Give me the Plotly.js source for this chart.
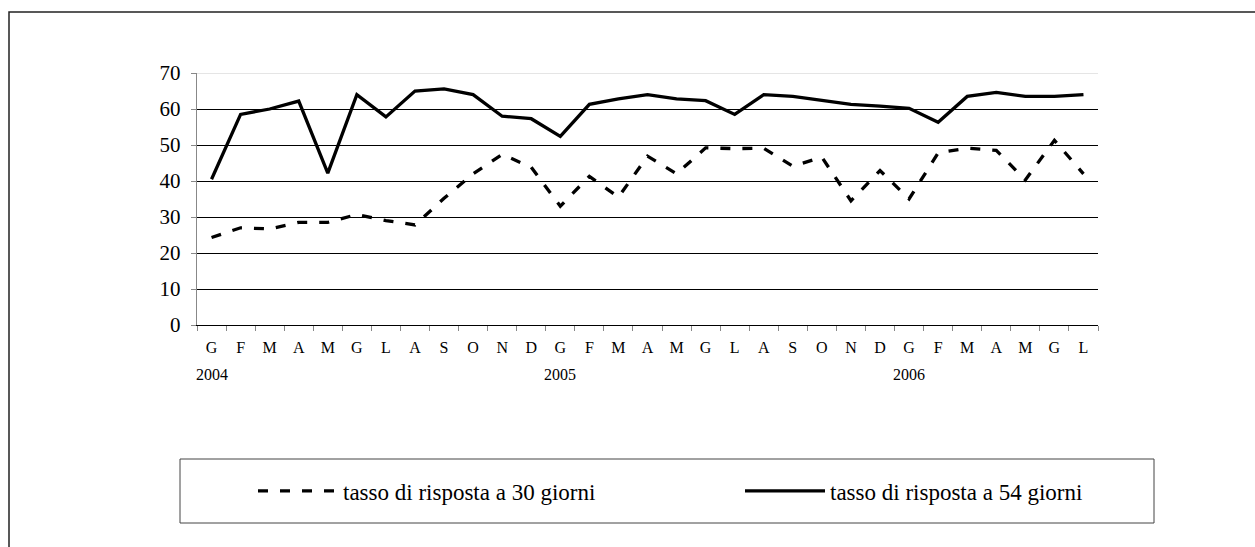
<!DOCTYPE html>
<html>
<head>
<meta charset="utf-8">
<script src="https://cdn.plot.ly/plotly-3.0.1.min.js"></script>
<style>
  html, body { margin: 0; padding: 0; background: #fff; }
  #chart { width: 1255px; height: 547px; }
</style>
</head>
<body>
<div id="chart"></div>
<script>
// ---- data ----
const months = ['G','F','M','A','M','G','L','A','S','O','N','D',
                'G','F','M','A','M','G','L','A','S','O','N','D',
                'G','F','M','A','M','G','L'];
const yearLabels = ['2004','2005','2006'];
const yearStartIndex = [0, 12, 24];
const rate30 = [24.3, 27.0, 26.7, 28.5, 28.5, 30.7, 29.0, 27.8, 35.2, 42.0, 47.4, 43.8,
                33.0, 41.3, 35.5, 46.9, 42.0, 49.2, 49.0, 49.1, 44.1, 46.6, 34.5, 42.9,
                35.0, 47.8, 49.1, 48.5, 40.3, 51.3, 42.0];
const rate54 = [40.5, 58.5, 60.0, 62.2, 42.2, 64.0, 57.8, 65.0, 65.6, 64.0, 58.0, 57.3,
                52.4, 61.3, 62.8, 64.0, 62.8, 62.3, 58.5, 64.0, 63.5, 62.5, 61.3, 60.8,
                60.2, 56.3, 63.5, 64.6, 63.5, 63.5, 64.0];
const seriesNames = ['tasso di risposta a 30 giorni', 'tasso di risposta a 54 giorni'];
const yTicks = [0, 10, 20, 30, 40, 50, 60, 70];

// unique category keys
const keys = months.map((m, i) => 'k' + i);

const W = 1255, H = 547;
const M = {l: 197, r: 157, t: 73, b: 222};
const pw = W - M.l - M.r, ph = H - M.t - M.b;
const px = x => (x - M.l) / pw;          // pixel -> paper x
const py = y => (H - M.b - y) / ph;      // pixel -> paper y

const FONT = 'Times New Roman, Liberation Serif, serif';

const traces = [
  {x: keys, y: rate30, name: seriesNames[0], type: 'scatter', mode: 'lines', legend: 'legend',
   line: {color: '#000', width: 3.3, dash: '10px,12px'}, hoverinfo: 'skip'},
  {x: keys, y: rate54, name: seriesNames[1], type: 'scatter', mode: 'lines', legend: 'legend2',
   line: {color: '#000', width: 3.3}, hoverinfo: 'skip'}
];

const annotations = yearLabels.map((t, i) => ({
  x: keys[yearStartIndex[i]], xref: 'x', y: py(374), yref: 'paper',
  text: t, showarrow: false, xanchor: 'center', yanchor: 'middle',
  font: {family: FONT, size: 16, color: '#000'}
}));

const shapes = [
  // outer frame
  {type: 'rect', xref: 'paper', yref: 'paper', x0: px(9), x1: px(1270), y0: py(560), y1: py(12),
   line: {color: '#222', width: 1.5}, fillcolor: 'rgba(0,0,0,0)', layer: 'below'},
  // legend box
  {type: 'rect', xref: 'paper', yref: 'paper', x0: px(180), x1: px(1154), y0: py(523), y1: py(459),
   line: {color: '#444', width: 1}, fillcolor: 'rgba(0,0,0,0)', layer: 'below'},
  // light top line at 70
  {type: 'line', xref: 'paper', yref: 'y', x0: 0, x1: 1, y0: 70, y1: 70,
   line: {color: '#dcdcdc', width: 1.5}, layer: 'below'}
];

const legendBase = {
  orientation: 'h', xanchor: 'left', y: py(491), yanchor: 'middle',
  bgcolor: 'rgba(0,0,0,0)', borderwidth: 0,
  font: {family: FONT, size: 23, color: '#000'}, itemwidth: 80
};

const layout = {
  width: W, height: H,
  margin: M,
  paper_bgcolor: '#fff', plot_bgcolor: '#fff',
  font: {family: FONT, color: '#000'},
  showlegend: true,
  legend: Object.assign({}, legendBase, {x: px(253)}),
  legend2: Object.assign({}, legendBase, {x: px(740)}),
  xaxis: {
    type: 'category', tickmode: 'array', tickvals: keys, ticktext: months,
    tickson: 'boundaries', ticks: 'outside', ticklen: 5, tickcolor: '#888', tickwidth: 1,
    showline: true, linecolor: '#000', linewidth: 1.3, showgrid: false, zeroline: false,
    tickfont: {family: FONT, size: 16, color: '#000'}, ticklabelstandoff: 7,
    range: [-0.5, keys.length - 0.5], fixedrange: true
  },
  yaxis: {
    range: [0, 70], tickmode: 'array', tickvals: yTicks, ticks: 'outside', ticklen: 5,
    tickcolor: '#888', showline: true, linecolor: '#888', linewidth: 1.3,
    showgrid: true, gridcolor: '#000', gridwidth: 1, zeroline: false,
    tickfont: {family: FONT, size: 21, color: '#000'}, ticklabelstandoff: 6,
    fixedrange: true
  },
  annotations: annotations,
  shapes: shapes
};

Plotly.newPlot('chart', traces, layout, {staticPlot: true, displayModeBar: false});
</script>
</body>
</html>
